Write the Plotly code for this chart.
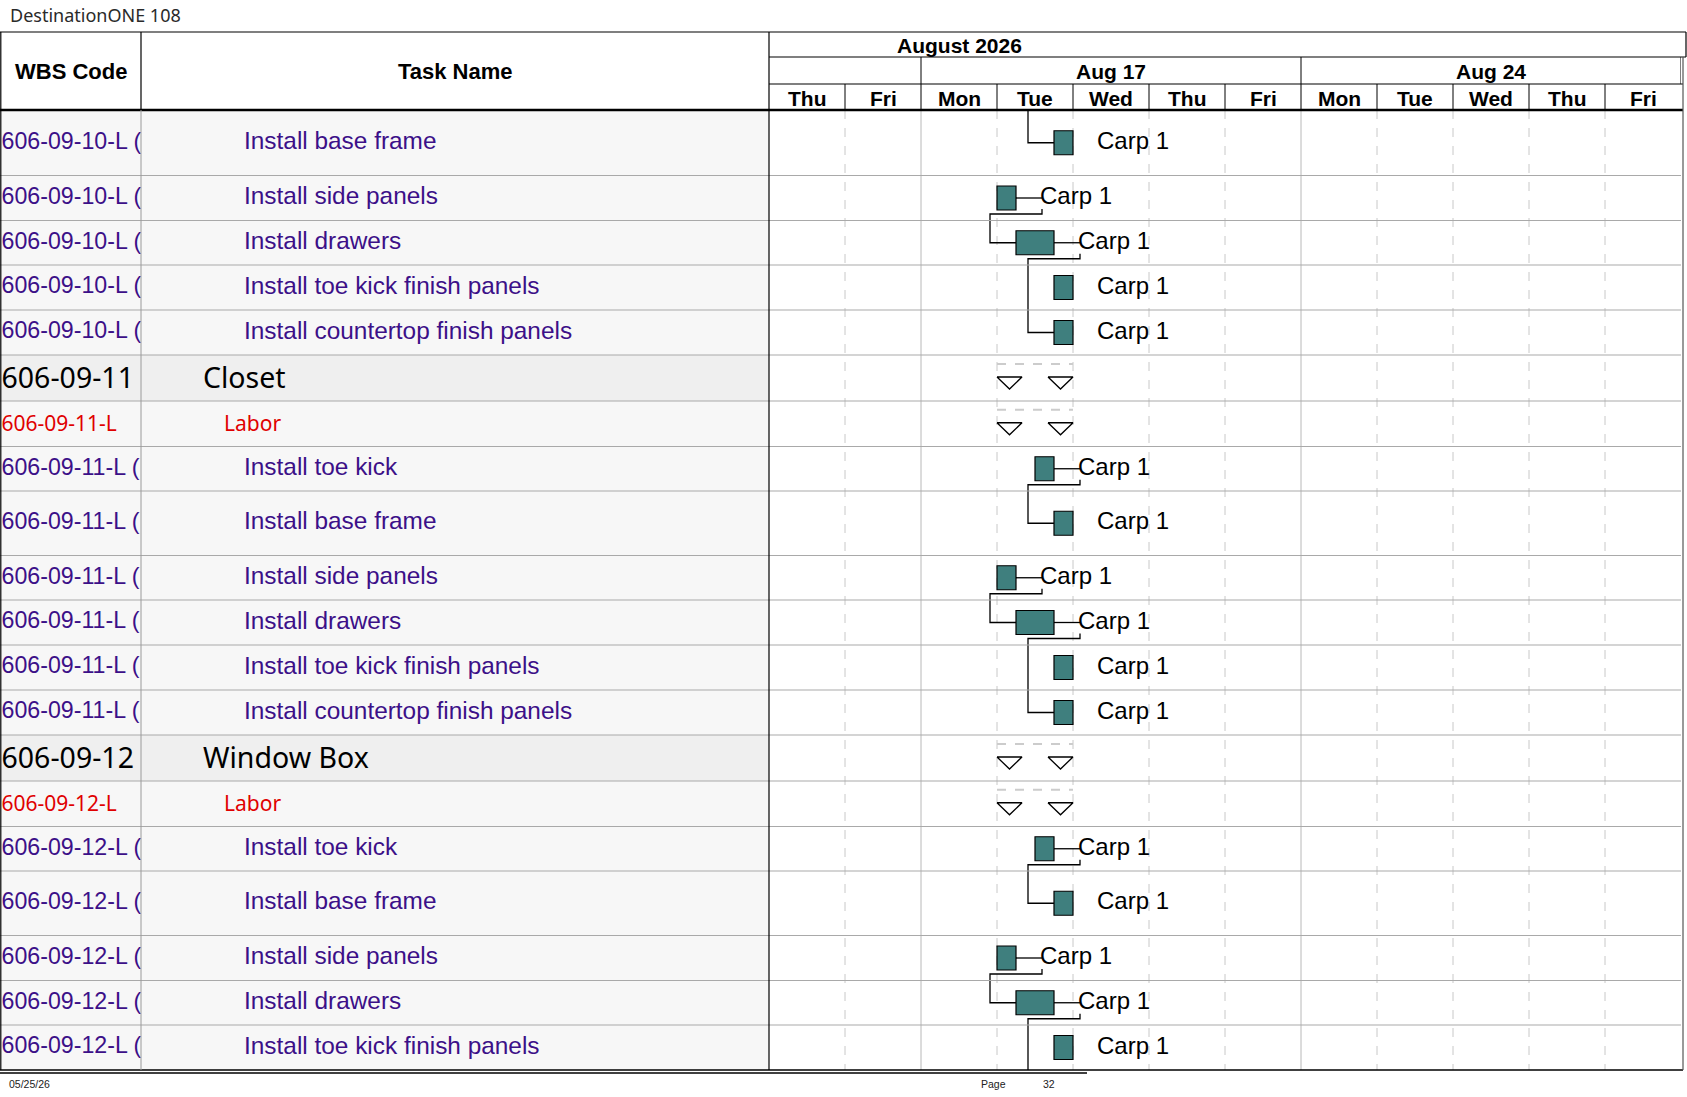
import numpy as np
import plotly.graph_objects as go

# ---- chart content ---------------------------------------------------------
title_text = "DestinationONE 108"
print_date = "05/25/26"
page_label = "Page"
page_no = "32"

month_label = "August 2026"
week_labels = ["Aug 17", "Aug 24"]
week_starts = ["2026-08-17", "2026-08-24"]
day_labels = ["Thu", "Fri", "Mon", "Tue", "Wed", "Thu", "Fri", "Mon", "Tue", "Wed", "Thu", "Fri"]
first_day = "2026-08-13"
end_day = "2026-08-29"

wbs_codes = [
    "606-09-10-L (", "606-09-10-L (", "606-09-10-L (", "606-09-10-L (", "606-09-10-L (",
    "606-09-11", "606-09-11-L",
    "606-09-11-L (", "606-09-11-L (", "606-09-11-L (", "606-09-11-L (", "606-09-11-L (", "606-09-11-L (",
    "606-09-12", "606-09-12-L",
    "606-09-12-L (", "606-09-12-L (", "606-09-12-L (", "606-09-12-L (", "606-09-12-L (",
]
task_names = [
    "Install base frame", "Install side panels", "Install drawers",
    "Install toe kick finish panels", "Install countertop finish panels",
    "Closet", "Labor",
    "Install toe kick", "Install base frame", "Install side panels", "Install drawers",
    "Install toe kick finish panels", "Install countertop finish panels",
    "Window Box", "Labor",
    "Install toe kick", "Install base frame", "Install side panels", "Install drawers",
    "Install toe kick finish panels",
]
row_kind = ["task"] * 5 + ["group", "labor"] + ["task"] * 6 + ["group", "labor"] + ["task"] * 5

# task schedule: work date, start hour into the 8h day, duration in hours
task_dates = ["2026-08-18"] * 5 + [None, None] + ["2026-08-18"] * 6 + [None, None] + ["2026-08-18"] * 5
start_hours = [6, 0, 2, 6, 6, None, None, 4, 6, 0, 2, 6, 6, None, None, 4, 6, 0, 2, 6]
dur_hours = [2, 2, 4, 2, 2, None, None, 2, 2, 2, 4, 2, 2, None, None, 2, 2, 2, 4, 2]
resources = ["Carp 1"] * 20

# finish-to-start links (pred row, succ row); -1 / 20 = task on another page
links = [(-1, 0), (1, 2), (2, 4), (7, 8), (9, 10), (10, 12), (15, 16), (17, 18), (18, 20)]

# ---- layout (pixels) ---------------------------------------------------------
W, H = 1687, 1097
WBS_X1, TASK_X1 = 141, 769
DAY_PX = 76
TOP, MONTH_BOT, WEEK_BOT, HEAD_BOT = 32, 57, 84, 110
ROW_H = [65.5, 45, 44.5, 45, 45, 46, 45.5, 44.5, 64.5, 44.5, 45, 45, 45, 46, 45.5, 44.5, 64.5, 45, 44.5, 45]
BAR_H = 24
STUB = 26 / DAY_PX
HOURS_PER_DAY = 8

PURPLE = "#3c1088"
TEAL = "#3f7f7e"
GRID = "#a9a9a9"
ARIAL = "Liberation Sans, Arial, sans-serif"
TAHOMA = "Noto Sans, DejaVu Sans, sans-serif"

n_days = int(np.busday_count(first_day, end_day))
GX1 = TASK_X1 + n_days * DAY_PX
edges = HEAD_BOT + np.concatenate([[0], np.cumsum(ROW_H)])
mids = (edges[:-1] + edges[1:]) / 2
BODY_BOT = edges[-1]
n_rows = len(task_names)

start = [None] * n_rows
end = [None] * n_rows
for i, d in enumerate(task_dates):
    if d is not None:
        start[i] = np.busday_count(first_day, d) + start_hours[i] / HOURS_PER_DAY
        end[i] = start[i] + dur_hours[i] / HOURS_PER_DAY

task_rows = [i for i in range(n_rows) if row_kind[i] == "task"]

fig = go.Figure()

# bars
fig.add_trace(go.Bar(
    orientation="h",
    y=[mids[i] for i in task_rows],
    base=[start[i] for i in task_rows],
    x=[end[i] - start[i] for i in task_rows],
    width=BAR_H,
    marker=dict(color=TEAL, line=dict(color="black", width=1.2)),
    xaxis="x3", yaxis="y", hoverinfo="skip", showlegend=False,
))

# link lines
lx, ly = [], []
for p, s in links:
    if p < 0:
        turn = start[s] - STUB
        lx += [turn, turn, start[s], None]
        ly += [HEAD_BOT, mids[s], mids[s], None]
        continue
    pe, pm = end[p], mids[p]
    lx += [pe, pe + STUB, None]
    ly += [pm, pm, None]
    if s < n_rows:
        turn = start[s] - STUB
        lx += [pe + STUB, pe + STUB, turn, turn, start[s], None]
        ly += [pm + 11, pm + 16, pm + 16, mids[s], mids[s], None]
    else:
        turn = pe - STUB
        lx += [pe + STUB, pe + STUB, turn, turn, None]
        ly += [pm + 11, pm + 16, pm + 16, BODY_BOT, None]
fig.add_trace(go.Scatter(x=lx, y=ly, mode="lines", line=dict(color="black", width=1.3),
                         xaxis="x3", yaxis="y", hoverinfo="skip", showlegend=False))

# resource labels
fig.add_trace(go.Scatter(
    x=[end[i] + STUB - 2 / DAY_PX for i in task_rows], y=[mids[i] for i in task_rows],
    text=[resources[i] for i in task_rows], mode="text", textposition="middle right",
    textfont=dict(family=ARIAL, size=24, color="black"),
    xaxis="x3", yaxis="y", hoverinfo="skip", showlegend=False,
))

# summary markers (group + labor rows) from the tasks of their section
TRI_W = 25 / DAY_PX
sx, sy, dx, dy = [], [], [], []
for i in range(n_rows):
    if row_kind[i] == "task":
        continue
    sec = wbs_codes[i][:9]
    members = [j for j in task_rows if wbs_codes[j].startswith(sec)]
    s0 = min(start[j] for j in members)
    s1 = max(end[j] for j in members)
    top = mids[i] - 1
    for a in (s0, s1 - TRI_W):
        sx += [a, a + TRI_W, a + TRI_W / 2, a, None]
        sy += [top, top, top + 12, top, None]
    dx += [s0, s1, None]
    dy += [mids[i] - 14, mids[i] - 14, None]
fig.add_trace(go.Scatter(x=dx, y=dy, mode="lines", line=dict(color="#cccccc", width=2, dash="dash"),
                         xaxis="x3", yaxis="y", hoverinfo="skip", showlegend=False))
fig.add_trace(go.Scatter(x=sx, y=sy, mode="lines", line=dict(color="black", width=1.3),
                         xaxis="x3", yaxis="y", hoverinfo="skip", showlegend=False))

# table text (clipped by column subplots)
indent = {"task": 103, "group": 62, "labor": 83}
nudge = {"task": 0, "group": 3, "labor": 2}
fonts = {
    "task": dict(family=ARIAL, size=24.4, color=PURPLE),
    "group": dict(family=TAHOMA, size=28.5, color="black"),
    "labor": dict(family=TAHOMA, size=21, color="#e00000"),
}
wbs_fonts = dict(fonts, task=dict(family=ARIAL, size=23.2, color=PURPLE))
for kind in ("task", "group", "labor"):
    rows = [i for i in range(n_rows) if row_kind[i] == kind]
    ys = [mids[i] + nudge[kind] for i in rows]
    fig.add_trace(go.Scatter(
        x=[1.5] * len(rows), y=ys, text=[wbs_codes[i] for i in rows],
        mode="text", textposition="middle right", textfont=wbs_fonts[kind], cliponaxis=True,
        xaxis="x", yaxis="y", hoverinfo="skip", showlegend=False,
    ))
    fig.add_trace(go.Scatter(
        x=[indent[kind]] * len(rows), y=ys, text=[task_names[i] for i in rows],
        mode="text", textposition="middle right", textfont=fonts[kind], cliponaxis=True,
        xaxis="x2", yaxis="y", hoverinfo="skip", showlegend=False,
    ))

# ---- shapes: backgrounds, grid and borders ---------------------------------------
def px(x):
    return x / W

shapes = []
for i in range(n_rows):
    shapes.append(dict(type="rect", xref="paper", yref="y", x0=0, x1=px(TASK_X1),
                       y0=edges[i], y1=edges[i + 1], layer="below", line_width=0,
                       fillcolor="#efefef" if row_kind[i] == "group" else "#f7f7f7"))

week_idx = [int(np.busday_count(first_day, w)) for w in week_starts]
for d in range(1, n_days):
    solid = d in week_idx
    shapes.append(dict(type="line", xref="x3", yref="y", x0=d, x1=d, y0=HEAD_BOT, y1=BODY_BOT,
                       layer="below",
                       line=dict(color="#b8b8b8" if solid else "#c8c8c8", width=1,
                                 dash="solid" if solid else "dash")))
    shapes.append(dict(type="line", xref="x3", yref="y", x0=d, x1=d, y0=WEEK_BOT, y1=HEAD_BOT,
                       line=dict(color="black", width=1)))
for d in week_idx + [n_days]:
    shapes.append(dict(type="line", xref="x3", yref="y", x0=d, x1=d, y0=MONTH_BOT, y1=WEEK_BOT,
                       line=dict(color="black", width=1)))

for e in edges[1:-1]:
    shapes.append(dict(type="line", xref="paper", yref="y", x0=0, x1=px(GX1), y0=e, y1=e,
                       line=dict(color=GRID, width=1)))


def hline(y, x0, x1, w=1.2, c="black"):
    shapes.append(dict(type="line", xref="paper", yref="y", x0=px(x0), x1=px(x1), y0=y, y1=y,
                       line=dict(color=c, width=w)))


def vline(x, y0, y1, w=1.2, c="black"):
    shapes.append(dict(type="line", xref="paper", yref="y", x0=px(x), x1=px(x), y0=y0, y1=y1,
                       line=dict(color=c, width=w)))


hline(TOP, 0, W - 1)
hline(MONTH_BOT, TASK_X1, W - 1)
hline(WEEK_BOT, TASK_X1, GX1 + 2)
hline(HEAD_BOT, 0, GX1 + 2, w=2.5)
hline(BODY_BOT, 0, GX1 + 2, w=1.5)
hline(BODY_BOT + 3, 0, 1087, w=1.5)
vline(0.8, TOP, BODY_BOT)
vline(WBS_X1, TOP, HEAD_BOT)
vline(WBS_X1, HEAD_BOT, BODY_BOT, w=1, c="#9a9a9a")
vline(TASK_X1, TOP, BODY_BOT)
vline(GX1 + 2, MONTH_BOT, BODY_BOT, c="#555555")
vline(W - 1, TOP, MONTH_BOT)

# ---- annotations: header texts, title, footer ----------------------------------
head_font = dict(family=ARIAL, size=21, color="black", weight="bold")
col_font = dict(family=ARIAL, size=22, color="black", weight="bold")
ann = [
    dict(text=title_text, xref="paper", yref="y", x=px(8), y=15, xanchor="left",
         font=dict(family="Noto Sans, sans-serif", size=18, color="#2a2a2a")),
    dict(text="WBS Code", xref="paper", yref="y", x=px(WBS_X1 / 2), y=(TOP + HEAD_BOT) / 2,
         xanchor="center", font=col_font),
    dict(text="Task Name", xref="paper", yref="y", x=px((WBS_X1 + TASK_X1) / 2), y=(TOP + HEAD_BOT) / 2,
         xanchor="center", font=col_font),
    dict(text=month_label, xref="x3", yref="y", x=2.5, y=(TOP + MONTH_BOT) / 2 + 1, font=head_font),
]
bounds = week_idx + [n_days]
for k, lab in enumerate(week_labels):
    ann.append(dict(text=lab, xref="x3", yref="y", x=(bounds[k] + bounds[k + 1]) / 2,
                    y=(MONTH_BOT + WEEK_BOT) / 2 + 1, font=head_font))
for d, lab in enumerate(day_labels):
    ann.append(dict(text=lab, xref="x3", yref="y", x=d + 0.5, y=(WEEK_BOT + HEAD_BOT) / 2 + 1,
                    font=head_font))
foot_font = dict(family=ARIAL, size=10.5, color="#222")
ann += [
    dict(text=print_date, xref="paper", yref="y", x=px(7), y=1084, xanchor="left", font=foot_font),
    dict(text=page_label, xref="paper", yref="y", x=px(979), y=1084, xanchor="left", font=foot_font),
    dict(text=page_no, xref="paper", yref="y", x=px(1041), y=1084, xanchor="left", font=foot_font),
]
for a in ann:
    a.setdefault("showarrow", False)
    a.setdefault("xanchor", "center")
    a.setdefault("yanchor", "middle")

hidden = dict(showgrid=False, zeroline=False, showticklabels=False, showline=False,
              ticks="", fixedrange=True)
fig.update_layout(
    width=W, height=H, margin=dict(l=0, r=0, t=0, b=0),
    paper_bgcolor="white", plot_bgcolor="rgba(0,0,0,0)",
    xaxis=dict(domain=[0, px(WBS_X1)], range=[0, WBS_X1], anchor="y", **hidden),
    xaxis2=dict(domain=[px(WBS_X1), px(TASK_X1)], range=[0, TASK_X1 - WBS_X1], anchor="y", **hidden),
    xaxis3=dict(domain=[px(TASK_X1), px(GX1)], range=[0, n_days], anchor="y", **hidden),
    yaxis=dict(domain=[0, 1], range=[H, 0], **hidden),
    shapes=shapes, annotations=ann, showlegend=False,
)

fig.write_html("out.html", config={"displayModeBar": False},
               post_script="document.body.style.margin='0';document.body.style.overflow='hidden';")
